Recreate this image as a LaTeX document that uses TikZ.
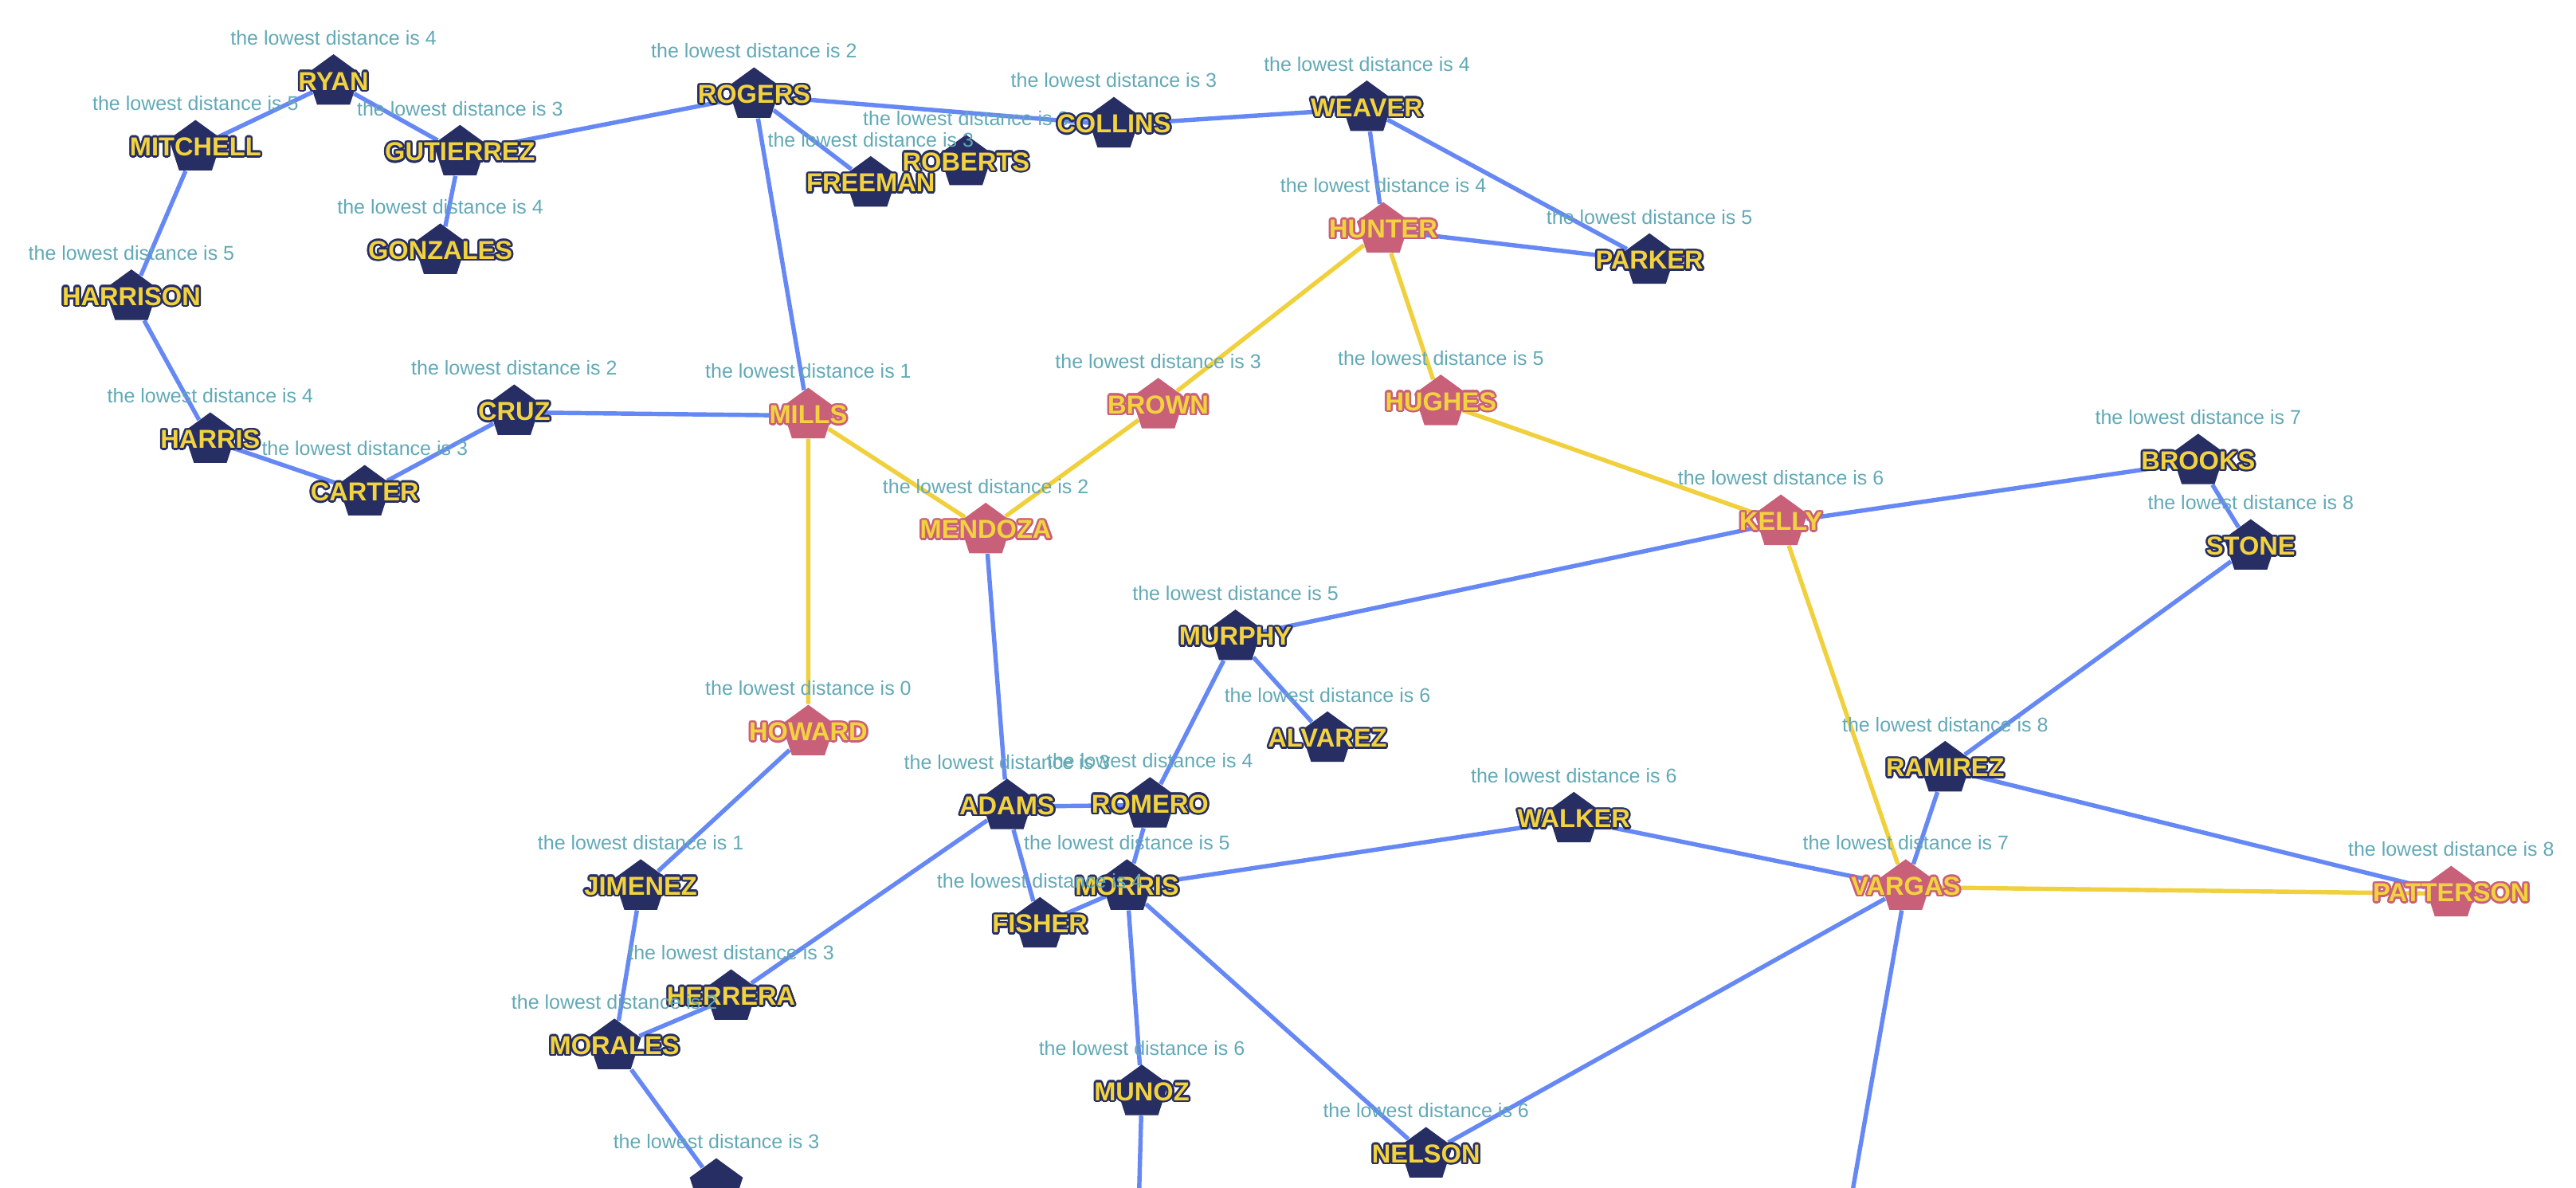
\documentclass[tikz,border=0pt]{standalone}
\usepackage{fontspec}
\setmainfont{Liberation Sans}
\usepackage{contour}
\contourlength{0.7pt}
\usetikzlibrary{shapes.geometric,backgrounds}
\definecolor{navy}{HTML}{262E64}
\definecolor{rosy}{HTML}{C9607A}
\definecolor{ytext}{HTML}{F2D33E}
\definecolor{bedge}{HTML}{6688F5}
\definecolor{yedge}{HTML}{F0D03C}
\definecolor{teal}{HTML}{62A9B6}
\tikzset{
  pent/.style={regular polygon,regular polygon sides=5,minimum size=0.68cm,inner sep=0pt,fill=#1},
  nm/.style={font=\fontsize{9}{9}\selectfont\bfseries,text=ytext,inner sep=0pt},
  dl/.style={font=\fontsize{6.9}{7}\selectfont,text=teal,inner sep=0pt},
  be/.style={draw=bedge,line width=1.5pt},
  ye/.style={draw=yedge,line width=1.5pt},
}
\newcommand\gnode[6]{%
  \node[pent=#6] (#1) at (#2,#3) {};
  \node[nm] (#1-t) at (#2,#3) {\contour{#6}{#4}};
  \node[dl] (#1-l) at (#2,#3-27) {the lowest distance is #5};
}
\begin{document}
\begin{tikzpicture}[x=0.02cm,y=-0.02cm]
\useasboundingbox (0,0) rectangle (1568,723);
\clip (0,0) rectangle (1568,723);
\gnode{ryan}{203}{50}{RYAN}{4}{navy}
\gnode{mitchell}{119}{90}{MITCHELL}{5}{navy}
\gnode{gutierrez}{280}{93}{GUTIERREZ}{3}{navy}
\gnode{gonzales}{268}{153}{GONZALES}{4}{navy}
\gnode{rogers}{459}{58}{ROGERS}{2}{navy}
\gnode{roberts}{588}{99}{ROBERTS}{3}{navy}
\gnode{freeman}{530}{112}{FREEMAN}{3}{navy}
\gnode{collins}{678}{76}{COLLINS}{3}{navy}
\gnode{weaver}{832}{66}{WEAVER}{4}{navy}
\gnode{hunter}{842}{140}{HUNTER}{4}{rosy}
\gnode{parker}{1004}{159}{PARKER}{5}{navy}
\gnode{harrison}{80}{181}{HARRISON}{5}{navy}
\gnode{harris}{128}{268}{HARRIS}{4}{navy}
\gnode{carter}{222}{300}{CARTER}{3}{navy}
\gnode{cruz}{313}{251}{CRUZ}{2}{navy}
\gnode{mills}{492}{253}{MILLS}{1}{rosy}
\gnode{brown}{705}{247}{BROWN}{3}{rosy}
\gnode{hughes}{877}{245}{HUGHES}{5}{rosy}
\gnode{mendoza}{600}{323}{MENDOZA}{2}{rosy}
\gnode{kelly}{1084}{318}{KELLY}{6}{rosy}
\gnode{brooks}{1338}{281}{BROOKS}{7}{navy}
\gnode{stone}{1370}{333}{STONE}{8}{navy}
\gnode{murphy}{752}{388}{MURPHY}{5}{navy}
\gnode{alvarez}{808}{450}{ALVAREZ}{6}{navy}
\gnode{howard}{492}{446}{HOWARD}{0}{rosy}
\gnode{ramirez}{1184}{468}{RAMIREZ}{8}{navy}
\gnode{adams}{613}{491}{ADAMS}{3}{navy}
\gnode{romero}{700}{490}{ROMERO}{4}{navy}
\gnode{walker}{958}{499}{WALKER}{6}{navy}
\gnode{jimenez}{390}{540}{JIMENEZ}{1}{navy}
\gnode{morris}{686}{540}{MORRIS}{5}{navy}
\gnode{fisher}{633}{563}{FISHER}{4}{navy}
\gnode{vargas}{1160}{540}{VARGAS}{7}{rosy}
\gnode{patterson}{1492}{544}{PATTERSON}{8}{rosy}
\gnode{herrera}{445}{607}{HERRERA}{3}{navy}
\gnode{morales}{374}{637}{MORALES}{2}{navy}
\gnode{munoz}{695}{665}{MUNOZ}{6}{navy}
\gnode{nelson}{868}{703}{NELSON}{6}{navy}
\node[pent=navy] (bottom) at (436,722) {};
\node[dl] (bottom-l) at (436,695) {the lowest distance is 3};
\coordinate (vout) at (1125,740);
\coordinate (mout) at (693,740);
\begin{pgfonlayer}{background}
\path[be] (ryan)--(mitchell) (ryan)--(gutierrez) (mitchell)--(harrison)
 (harrison)--(harris) (harris)--(carter) (carter)--(cruz) (cruz)--(mills)
 (gutierrez)--(rogers) (gutierrez)--(gonzales) (rogers)--(freeman) (rogers)--(collins)
 (rogers)--(mills) (collins)--(weaver) (weaver)--(hunter) (weaver)--(parker) (hunter)--(parker)
 (kelly)--(brooks) (kelly)--(murphy) (brooks)--(stone) (stone)--(ramirez)
 (ramirez)--(vargas) (ramirez)--(patterson) (murphy)--(alvarez) (murphy)--(romero)
 (mendoza)--(adams) (adams)--(romero) (adams)--(fisher) (adams)--(herrera)
 (romero)--(morris) (morris)--(fisher) (morris)--(walker) (walker)--(vargas)
 (morris)--(munoz) (morris)--(nelson) (nelson)--(vargas) (vargas)--(vout)
 (howard)--(jimenez) (jimenez)--(morales) (morales)--(herrera) (morales)--(bottom)
 (munoz)--(mout);
\path[ye] (hunter)--(brown) (brown)--(mendoza) (hunter)--(hughes) (hughes)--(kelly)
 (mills)--(mendoza) (mills)--(howard) (kelly)--(vargas) (vargas)--(patterson);
\end{pgfonlayer}
\end{tikzpicture}
\end{document}
